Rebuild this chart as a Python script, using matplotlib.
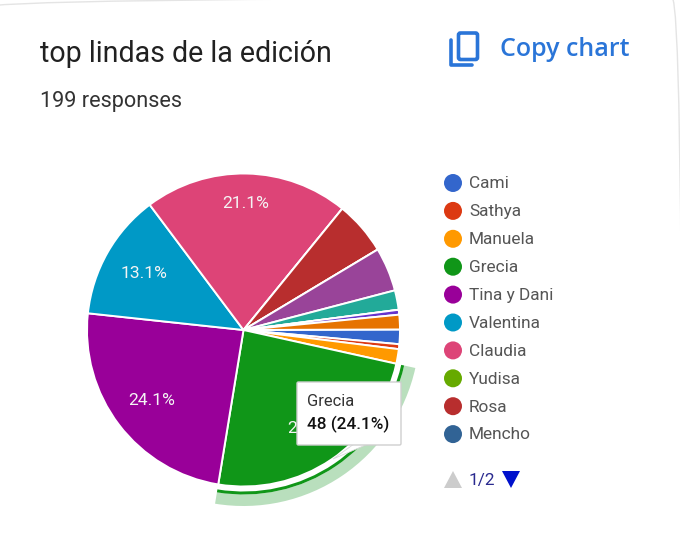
import matplotlib
matplotlib.use("Agg")
import matplotlib.pyplot as plt
import numpy as np
from matplotlib.patches import Wedge, Polygon, FancyBboxPatch, Circle

plt.rcParams['font.family'] = ['Roboto', 'DejaVu Sans']

# the names after the tenth are on page 2 of the legend, so they can't be read
categories = ["Cami", "Sathya", "Manuela", "Grecia", "Tina y Dani", "Valentina",
              "Claudia", "Yudisa", "Rosa", "Mencho",
              "(página 2) a", "(página 2) b", "(página 2) c", "(página 2) d", "(página 2) e"]
responses = [3, 1, 3, 48, 48, 26, 42, 0, 11, 0, 9, 4, 0, 1, 3]
colors = ["#3366cc", "#dc3912", "#ff9900", "#109618", "#990099", "#0099c6",
          "#dd4477", "#66aa00", "#b82e2e", "#316395",
          "#994499", "#22aa99", "#aaaa11", "#6633cc", "#e67300"]
legend_count = 10
min_label_pct = 10
selected = "Grecia"
title = "top lindas de la edición"
subtitle = "199 responses"
page_label = "1/2"

H = 540
cx, cy, radius = 243.5, 330, 156.5
label_radius = {"Grecia": 0.76, "Tina y Dani": 0.74, "Valentina": 0.73, "Claudia": 0.81}


def Y(y):
    # picture rows run downward, the axes upward
    return H - y


fig = plt.figure(figsize=(6.8, 5.4), dpi=100)
ax = fig.add_axes([0, 0, 1, 1])

wedges, _ = ax.pie(responses, colors=colors, startangle=0.2, counterclock=False,
                   center=(cx, Y(cy)), radius=radius, frame=True,
                   wedgeprops={"edgecolor": "white", "linewidth": 1.4})

ax.set_xlim(0, 680)
ax.set_ylim(0, H)
ax.set_aspect("equal")
ax.axis("off")

# card corner, its straight edges fall just outside the picture
ax.add_patch(FancyBboxPatch((-20, -20), 702, H + 22, boxstyle="round,pad=0,rounding_size=10",
                            facecolor="none", edgecolor="#e4e4e4", linewidth=1, zorder=0))

# percent labels, google does not centre them all the same
total = sum(responses)
for name, w, value in zip(categories, wedges, responses):
    pct = 100.0 * value / total
    if pct < min_label_pct:
        continue
    mid = np.deg2rad((w.theta1 + w.theta2) / 2.0)
    r = radius * label_radius[name]
    ax.text(cx + r * np.cos(mid), Y(cy) + r * np.sin(mid), "%.1f%%" % pct,
            color="#f4f4f4", fontsize=12.6, ha="center", va="center", zorder=3)

# highlight ring on the hovered slice
i = categories.index(selected)
w = wedges[i]
ax.add_patch(Wedge((cx, Y(cy)), 176, w.theta1, w.theta2, width=11.5,
                   facecolor="#b9dfbd", edgecolor="none", zorder=2))
ax.add_patch(Wedge((cx, Y(cy)), 164.5, w.theta1, w.theta2, width=3,
                   facecolor=colors[i], edgecolor="none", zorder=2))

# tooltip
ax.add_patch(Polygon([(333, Y(459)), (354, Y(444)), (368, Y(444))],
                     facecolor="white", edgecolor="#d8d8d8", linewidth=0.6, zorder=4))
ax.add_patch(FancyBboxPatch((297, Y(445)), 104, 63, boxstyle="round,pad=0,rounding_size=1.5",
                            facecolor="white", edgecolor="#cfcfcf", linewidth=1, zorder=5))
ax.text(307, Y(401), selected, fontsize=11.9, color="#333333", va="center", zorder=6)
ax.text(307, Y(424), "%d (%.1f%%)" % (responses[i], 100.0 * responses[i] / total),
        fontsize=12.3, color="#111111", va="center", fontweight="medium", zorder=6)

# header
ax.text(40, Y(53.5), title, fontsize=20.6, color="#212121", va="center")
ax.text(40, Y(101.5), subtitle, fontsize=15.6, color="#333333", va="center")
ax.text(500, Y(49.5), "Copy chart", fontsize=18, color="#2a75d8", va="center",
        fontweight="semibold", family=["Open Sans", "DejaVu Sans"])

# copy icon
ax.add_patch(FancyBboxPatch((458.5, Y(59.5)), 19, 26.5, boxstyle="round,pad=0,rounding_size=2",
                            facecolor="none", edgecolor="#2a75d8", linewidth=2.6))
ax.plot([451, 451, 472], [Y(40), Y(65), Y(65)], color="#2a75d8", linewidth=2.6,
        solid_capstyle="round", solid_joinstyle="round")

# legend, first page only
for k in range(legend_count):
    y = 183 + 27.9 * k
    ax.add_patch(Circle((453, Y(y)), 9, facecolor=colors[k], edgecolor="none"))
    ax.text(469, Y(y + 0.8), categories[k], fontsize=12.4, color="#555555", va="center")

# legend pager
ax.add_patch(Polygon([(444, Y(488)), (462, Y(488)), (453, Y(471))], facecolor="#cccccc", edgecolor="none"))
ax.add_patch(Polygon([(502, Y(471)), (520, Y(471)), (511, Y(488))], facecolor="#0011cc", edgecolor="none"))
ax.text(469, Y(480), page_label, fontsize=12.4, color="#2a2a8f", va="center")

fig.savefig("out.png", dpi=100, facecolor="white")
